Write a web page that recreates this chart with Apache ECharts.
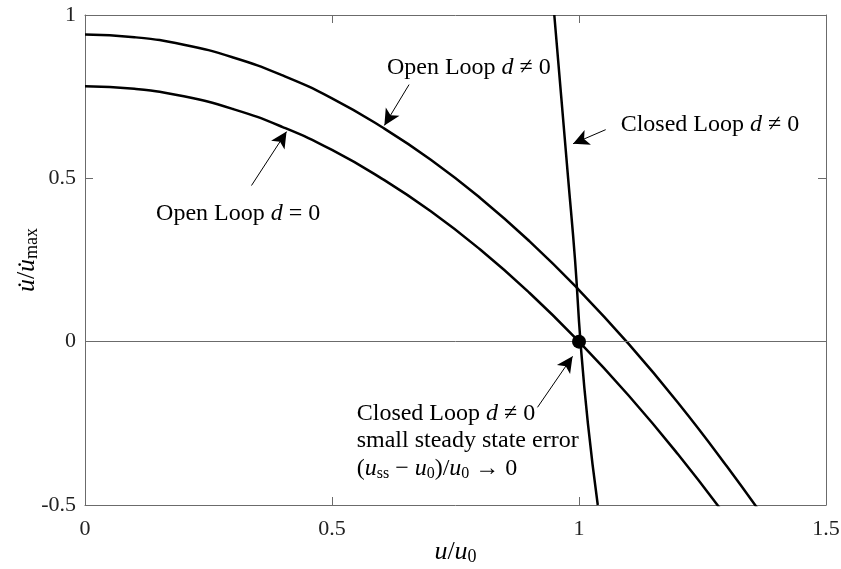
<!DOCTYPE html>
<html>
<head>
<meta charset="utf-8">
<script src="https://cdn.jsdelivr.net/npm/echarts@6/dist/echarts.min.js"></script>
<style>
  html, body { margin: 0; padding: 0; background: #fff; }
  #chart { width: 841px; height: 569px; }
</style>
</head>
<body>
<div id="chart"></div>
<script>
// Open-loop characteristic without disturbance (d = 0): u/u0 vs udot/udot_max
const openD0U = [0, 0.1, 0.2, 0.3, 0.4, 0.5, 0.6, 0.7, 0.8, 0.9, 1.0, 1.1, 1.2, 1.3];
const openD0Y = [0.782, 0.774, 0.751, 0.712, 0.657, 0.587, 0.500, 0.399, 0.282, 0.149, 0.000, -0.164, -0.344, -0.540];

// Open-loop characteristic with disturbance (d != 0)
const openDU = [0, 0.1, 0.2, 0.3, 0.4, 0.5, 0.6, 0.7, 0.8, 0.9, 1.0, 1.1, 1.2, 1.3, 1.4];
const openDY = [0.940, 0.932, 0.909, 0.870, 0.815, 0.745, 0.658, 0.557, 0.440, 0.307, 0.158, -0.006, -0.186, -0.383, -0.593];

// Closed-loop characteristic with disturbance (d != 0)
const closedU = [0.950, 0.964, 0.978, 0.992, 1.003, 1.018, 1.038];
const closedY = [1.0, 0.75, 0.5, 0.25, 0.0, -0.25, -0.5];

// Closed-loop operating point
const operatingPoint = [1.0, 0.0];

// Axis ticks
const xTicks = [0, 0.5, 1, 1.5];
const xTickLabels = ['0', '0.5', '1', '1.5'];
const yTicks = [-0.5, 0, 0.5, 1];
const yTickLabels = ['-0.5', '0', '0.5', '1'];

// Annotation texts (rich-text markup) and where they sit, in data units
const noteTexts = [
  '{t|Open Loop }{i|d}{t| ≠ 0}',
  '{t|Closed Loop }{i|d}{t| ≠ 0}',
  '{t|Open Loop }{i|d}{t| = 0}',
  '{t|Closed Loop }{i|d}{t| ≠ 0}\n{t|small steady state error}\n{t|(}{i|u}{s|ss}{t| − }{i|u}{s|0}{t|)/}{i|u}{s|0}{t| → 0}'
];
const notePlacement = [
  { at: [0.777, 0.840], position: 'inside' },
  { at: [1.265, 0.664], position: 'inside' },
  { at: [0.310, 0.393], position: 'inside' },
  { at: [0.549, -0.304], position: 'right' }
];
// Leader arrows: [tail, head] in data units
const arrowSegments = [
  [[0.656, 0.787], [0.606, 0.662]],
  [[1.054, 0.649], [0.988, 0.606]],
  [[0.337, 0.478], [0.408, 0.643]],
  [[0.916, -0.201], [0.987, -0.045]]
];

const FONT = "'Liberation Serif', 'DejaVu Serif', serif";
const INK = '#000';
const FRAME = '#6b6b6b';

function richSet(size, subSize, lh, subPad) {
  return {
    t: { fontFamily: FONT, fontSize: size, color: INK, lineHeight: lh },
    i: { fontFamily: FONT, fontSize: size, color: INK, lineHeight: lh, fontStyle: 'italic' },
    s: { fontFamily: FONT, fontSize: subSize, color: INK, lineHeight: subSize + 1, padding: [subPad, 0, 0, 0] }
  };
}
const noteRich = richSet(24, 16, 27.5, 10);
const axisRich = richSet(26, 18, 30, 11);

const zip = (a, b) => a.map((v, k) => [v, b[k]]);

function frameAxis(extra) {
  return Object.assign({
    type: 'value',
    axisLine: { show: true, onZero: false, lineStyle: { color: FRAME, width: 1 } },
    axisTick: { show: true, inside: true, length: 8, lineStyle: { color: FRAME, width: 1 } },
    splitLine: { show: false }
  }, extra);
}

const xBase = { min: xTicks[0], max: xTicks[xTicks.length - 1], interval: xTicks[1] - xTicks[0] };
const yBase = { min: yTicks[0], max: yTicks[yTicks.length - 1], interval: yTicks[1] - yTicks[0] };

const option = {
  animation: false,
  backgroundColor: '#fff',
  grid: { left: 85, right: 15, top: 15, bottom: 64, containLabel: false, outerBoundsMode: 'none' },
  xAxis: [
    frameAxis(Object.assign({}, xBase, {
      position: 'bottom',
      axisLabel: {
        margin: 13, fontFamily: FONT, fontSize: 22, color: '#222',
        formatter: v => xTickLabels[xTicks.indexOf(v)]
      },
      name: '{i|u}{t|/}{i|u}{s|0}',
      nameLocation: 'middle',
      nameGap: 32,
      nameMoveOverlap: false,
      nameTextStyle: { rich: axisRich, verticalAlign: 'top' }
    })),
    frameAxis(Object.assign({}, xBase, { position: 'top', axisLabel: { show: false } }))
  ],
  yAxis: [
    frameAxis(Object.assign({}, yBase, {
      position: 'left',
      axisLabel: {
        margin: 9, fontFamily: FONT, fontSize: 22, color: '#222',
        formatter: v => yTickLabels[yTicks.indexOf(v)]
      },
      name: '{i|u\u0307}{t|/}{i|u\u0307}{s|max}',
      nameLocation: 'middle',
      nameRotate: 90,
      nameGap: 43,
      nameMoveOverlap: false,
      nameTextStyle: { rich: axisRich }
    })),
    frameAxis(Object.assign({}, yBase, { position: 'right', axisLabel: { show: false } }))
  ],
  series: [
    {
      name: 'Zero',
      type: 'line',
      data: [],
      silent: true,
      markLine: {
        silent: true,
        symbol: 'none',
        label: { show: false },
        lineStyle: { color: FRAME, width: 1, type: 'solid' },
        data: [{ yAxis: 0 }]
      }
    },
    {
      name: 'Open Loop d = 0',
      type: 'line',
      data: zip(openD0U, openD0Y),
      smooth: true,
      showSymbol: false,
      lineStyle: { color: '#000', width: 2.5 },
      silent: true
    },
    {
      name: 'Open Loop d != 0',
      type: 'line',
      data: zip(openDU, openDY),
      smooth: true,
      showSymbol: false,
      lineStyle: { color: '#000', width: 2.5 },
      silent: true
    },
    {
      name: 'Closed Loop d != 0',
      type: 'line',
      data: zip(closedU, closedY),
      smooth: true,
      showSymbol: false,
      lineStyle: { color: '#000', width: 2.5 },
      silent: true,
      markLine: {
        silent: true,
        symbol: ['none', 'arrow'],
        symbolSize: [12, 16],
        label: { show: false },
        lineStyle: { color: '#000', width: 1, type: 'solid' },
        data: arrowSegments.map(s => [{ coord: s[0] }, { coord: s[1] }])
      }
    },
    {
      name: 'Operating point',
      type: 'scatter',
      data: [operatingPoint],
      symbol: 'circle',
      symbolSize: 14,
      itemStyle: { color: '#000', opacity: 1 },
      silent: true,
      z: 5
    },
    {
      name: 'Notes',
      type: 'scatter',
      symbol: 'circle',
      symbolSize: 1,
      itemStyle: { color: '#fff', opacity: 1 },
      silent: true,
      z: 6,
      label: { show: true, rich: noteRich, distance: 0 },
      data: noteTexts.map((txt, k) => ({
        value: notePlacement[k].at,
        label: {
          show: true,
          position: notePlacement[k].position,
          formatter: txt,
          rich: noteRich,
          distance: 0
        }
      }))
    }
  ]
};

const chart = echarts.init(document.getElementById('chart'), null, { renderer: 'canvas' });
chart.setOption(option);
</script>
</body>
</html>
